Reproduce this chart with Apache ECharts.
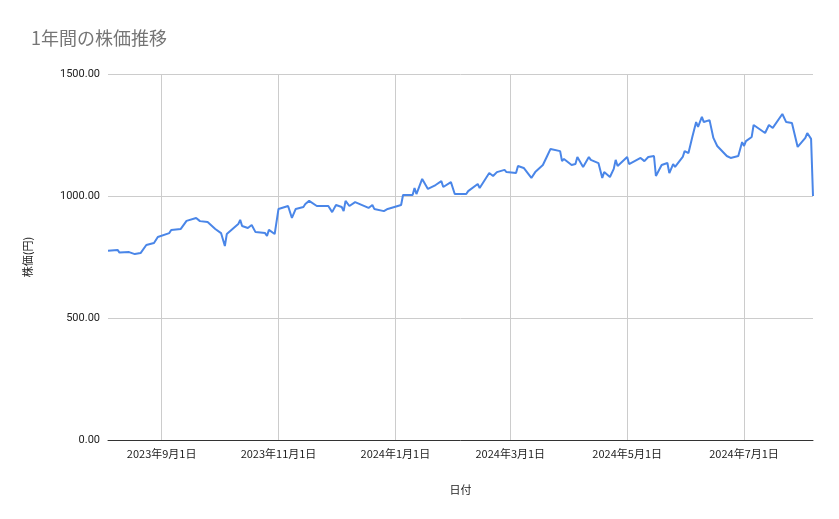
<!DOCTYPE html>
<html><head><meta charset="utf-8">
<script src="https://cdn.jsdelivr.net/npm/echarts@6/dist/echarts.min.js"></script>
<style>html,body{margin:0;padding:0;background:#fff}#c{width:839px;height:519px}</style>
</head><body><div id="c"></div>
<script>
const dates = ["2023-08-04","2023-08-09","2023-08-10","2023-08-15","2023-08-18","2023-08-21","2023-08-24","2023-08-25","2023-08-28","2023-08-30","2023-09-05","2023-09-06","2023-09-11","2023-09-14","2023-09-19","2023-09-21","2023-09-25","2023-09-29","2023-10-02","2023-10-04","2023-10-05","2023-10-11","2023-10-12","2023-10-13","2023-10-16","2023-10-18","2023-10-20","2023-10-25","2023-10-26","2023-10-27","2023-10-30","2023-11-01","2023-11-06","2023-11-08","2023-11-10","2023-11-14","2023-11-15","2023-11-17","2023-11-21","2023-11-27","2023-11-29","2023-12-01","2023-12-04","2023-12-05","2023-12-06","2023-12-08","2023-12-11","2023-12-18","2023-12-20","2023-12-21","2023-12-26","2023-12-28","2024-01-04","2024-01-05","2024-01-10","2024-01-11","2024-01-12","2024-01-15","2024-01-18","2024-01-22","2024-01-23","2024-01-25","2024-01-26","2024-01-30","2024-01-31","2024-02-01","2024-02-07","2024-02-08","2024-02-13","2024-02-14","2024-02-19","2024-02-21","2024-02-23","2024-02-27","2024-02-28","2024-03-04","2024-03-05","2024-03-08","2024-03-12","2024-03-14","2024-03-18","2024-03-20","2024-03-22","2024-03-27","2024-03-28","2024-03-29","2024-04-02","2024-04-04","2024-04-05","2024-04-08","2024-04-11","2024-04-12","2024-04-16","2024-04-18","2024-04-19","2024-04-22","2024-04-24","2024-04-25","2024-04-26","2024-05-01","2024-05-02","2024-05-08","2024-05-10","2024-05-12","2024-05-15","2024-05-16","2024-05-17","2024-05-19","2024-05-22","2024-05-23","2024-05-25","2024-05-26","2024-05-30","2024-05-31","2024-06-02","2024-06-04","2024-06-06","2024-06-07","2024-06-09","2024-06-10","2024-06-13","2024-06-15","2024-06-17","2024-06-22","2024-06-24","2024-06-25","2024-06-28","2024-06-30","2024-07-01","2024-07-02","2024-07-05","2024-07-06","2024-07-12","2024-07-14","2024-07-16","2024-07-21","2024-07-23","2024-07-26","2024-07-29","2024-08-02","2024-08-03","2024-08-05","2024-08-06"];
const prices = [776,779,768,770,762,766,799,791,807,832,848,861,865,898,910,897,893,865,848,795,844,885,902,877,869,881,852,848,836,861,844,947,959,910,947,955,967,980,959,959,934,963,955,938,980,959,975,951,963,947,938,947,963,1004,1004,1033,1008,1070,1029,1045,1037,1061,1037,1057,1061,1008,1008,1020,1049,1033,1094,1082,1098,1107,1098,1094,1123,1115,1074,1098,1127,1160,1193,1184,1143,1152,1127,1131,1160,1119,1160,1148,1135,1074,1098,1078,1111,1148,1123,1160,1131,1156,1143,1160,1164,1082,1082,1127,1135,1094,1131,1119,1160,1184,1176,1242,1303,1283,1324,1303,1311,1238,1205,1164,1156,1164,1164,1221,1205,1225,1242,1291,1258,1291,1279,1336,1303,1299,1201,1238,1258,1234,1000];
const tickDates = ["2023-09-01","2023-11-01","2024-01-01","2024-03-01","2024-05-01","2024-07-01"];
const ts = s => new Date(s + "T00:00:00").getTime();
const fmt = v => {const d=new Date(v);return d.getFullYear()+"年"+(d.getMonth()+1)+"月"+d.getDate()+"日";};
const chart = echarts.init(document.getElementById('c'));
chart.setOption({
  animation:false,
  title:{text:"1年間の株価推移",left:26,top:24,textStyle:{fontFamily:"Noto Sans CJK JP",fontSize:18,fontWeight:'normal',color:'#757575'}},
  grid:{left:108,right:26,top:74,bottom:79},
  xAxis:{type:'value',min:ts("2023-08-04"),max:ts("2024-08-06"),
    name:"日付",nameLocation:'middle',nameGap:44,nameTextStyle:{fontFamily:"Noto Sans CJK JP",fontSize:11,color:'#222'},
    axisLine:{lineStyle:{color:'#333'}},axisTick:{show:false},axisLabel:{show:false},splitLine:{show:false}},
  yAxis:{type:'value',min:0,max:1500,interval:500,
    name:"株価(円)",nameLocation:'middle',nameGap:75,nameRotate:90,nameTextStyle:{fontFamily:"Noto Sans CJK JP",fontSize:11,color:'#222'},
    axisLine:{show:false},axisTick:{show:false},
    axisLabel:{formatter:v=>v.toFixed(2),fontFamily:"Roboto",fontSize:11,color:'#222',margin:8},
    splitLine:{lineStyle:{color:'#ccc'}}},
  series:[{type:'line',data:dates.map((d,i)=>[ts(d),prices[i]]),showSymbol:false,z:3,
    lineStyle:{color:'#4a86e8',width:2},itemStyle:{color:'#4a86e8'},
    markLine:{silent:true,symbol:'none',z:1,
      lineStyle:{color:'#ccc',type:'solid',width:1},
      label:{position:'start',distance:8,formatter:p=>fmt(p.value),fontFamily:"Noto Sans CJK JP",fontSize:11,color:'#222'},
      data:tickDates.map(d=>({xAxis:ts(d)}))}}]
});
</script></body></html>
